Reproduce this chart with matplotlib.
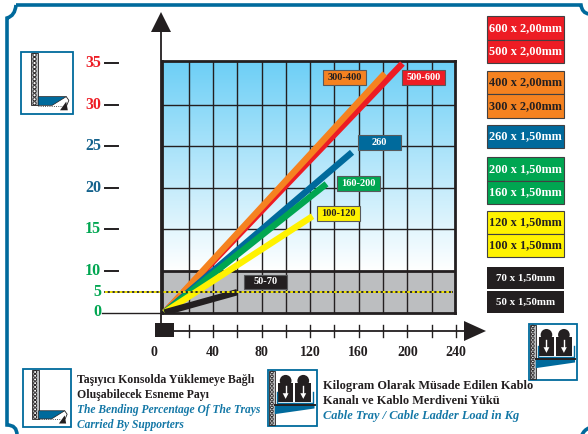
import numpy as np
import matplotlib
matplotlib.use('Agg')
import matplotlib.pyplot as plt
from matplotlib.colors import LinearSegmentedColormap
from matplotlib.patches import Rectangle, Polygon, Circle, PathPatch
from matplotlib.path import Path
from matplotlib.transforms import blended_transform_factory

# cable tray load (kg) / bending percentage
series_names = ['500-600', '300-400', '260', '160-200', '100-120', '50-70']
series_load = [196, 181.5, 154.5, 133.5, 122, 60]
series_bend = [35, 33.8, 24.3, 20.5, 16.6, 4.9]
series_colors = ['#ed1c24', '#f58220', '#006a9c', '#00a651', '#fff200', '#231f20']
name_colors = ['white', '#231f20', 'white', 'white', '#231f20', 'white']

y_ticks = [35, 30, 25, 20, 15, 10, 5, 0]
y_tick_colors = ['#ed1c24', '#ed1c24', '#14628c', '#14628c', '#00a651', '#00a651', '#00a651', '#00a651']
x_ticks = [0, 40, 80, 120, 160, 200, 240]

legend_labels = ['600 x 2,00mm', '500 x 2,00mm', '400 x 2,00mm', '300 x 2,00mm', '260 x 1,50mm',
                 '200 x 1,50mm', '160 x 1,50mm', '120 x 1,50mm', '100 x 1,50mm', '70 x 1,50mm', '50 x 1,50mm']
legend_colors = ['#ed1c24', '#ed1c24', '#f58220', '#f58220', '#006a9c',
                 '#00a651', '#00a651', '#fff200', '#fff200', '#231f20', '#231f20']
legend_text = ['white', 'white', '#231f20', '#231f20', 'white', 'white', 'white',
               '#231f20', '#231f20', 'white', 'white']

W, H = 588, 434
DARK = '#231f20'
BLUE = '#006a9c'
TXTBLUE = '#1377a6'
plt.rcParams['font.family'] = ['Liberation Serif', 'DejaVu Serif']

fig = plt.figure(figsize=(W / 100, H / 100), dpi=100, facecolor='white')


def px_axes(z):
    a = fig.add_axes([0, 0, 1, 1], zorder=z)
    a.set_xlim(0, W)
    a.set_ylim(H, 0)
    a.axis('off')
    a.patch.set_alpha(0)
    return a


bg = px_axes(0)
ov = px_axes(2)

# main axes, y axis is squeezed below 10
L, R, T, B = 161.5, 455.0, 61.0, 312.5
ax = fig.add_axes([L / W, 1 - B / H, (R - L) / W, (B - T) / H], zorder=1)
ax.patch.set_alpha(0)


def squeeze(y):
    y = np.asarray(y, dtype=float)
    return np.where(y <= 10, y * 0.5, y - 5)


def unsqueeze(z):
    z = np.asarray(z, dtype=float)
    return np.where(z <= 5, z * 2, z + 5)


ax.set_yscale('function', functions=(squeeze, unsqueeze))
ax.set_xlim(-2.4, 239.3)
ax.set_ylim(0, 35.3)
ax.set_xticks(np.arange(20, 240, 20))
ax.set_yticks([10, 15, 20, 25, 30])
ax.minorticks_off()
ax.tick_params(length=0, labelbottom=False, labelleft=False)
ax.grid(True, color=DARK, lw=1.0)
ax.get_ygridlines()[0].set_linewidth(2.0)
for s in ax.spines.values():
    s.set_linewidth(2.0)
    s.set_color(DARK)
ax.set_axisbelow(True)

# background gradient + gray band
cm = LinearSegmentedColormap.from_list('sky', ['#6dcff6', '#ffffff'])
bg.imshow(np.linspace(0, 1, 200)[:, None], cmap=cm, aspect='auto', extent=(L, R, 271, T), zorder=0)
bg.set_xlim(0, W)
bg.set_ylim(H, 0)
bg.add_patch(Rectangle((L, 271), R - L, B - 271, color='#bcbec0', lw=0, zorder=1))

# series
for x, y, c in zip(series_load, series_bend, series_colors):
    ax.plot([0, x], [0, y], color=c, lw=4.6, solid_capstyle='butt', zorder=3)

# y ticks, outside the axes on the left
ty = blended_transform_factory(ov.transData, ax.transData)
for v, c in zip(y_ticks, y_tick_colors):
    ax.text(101, v, str(v), color=c, fontsize=11.5, fontweight='bold', ha='right', va='center',
            transform=ty, clip_on=False)
    if v >= 10:
        ax.plot([105, 118], [v, v], color=DARK, lw=1.4, transform=ty, clip_on=False)
ax.plot([102, 161], [0, 0], color=DARK, lw=1.0, transform=ty, clip_on=False)
ax.plot([105, 452], [5, 5], color=DARK, lw=1.3, transform=ty, clip_on=False, zorder=4)
ax.plot([105, 452], [5, 5], color='#fff200', lw=1.3, ls=(0, (1.5, 1.2)), transform=ty, clip_on=False, zorder=4)

# axes arrows
ov.plot([161, 161], [30, 323], color=DARK, lw=1.3)
ov.add_patch(Polygon([[151, 32], [171, 32], [161, 12]], color=DARK, lw=0))
ov.plot([170, 466], [331, 331], color=DARK, lw=1.3)
ov.add_patch(Polygon([[464, 321], [464, 341], [486, 331]], color=DARK, lw=0))
ov.add_patch(Rectangle((154.5, 323), 19, 14, color=DARK, lw=0))

# x ticks below the axes
tx = blended_transform_factory(ax.transData, ov.transData)
for v in np.arange(20, 241, 20):
    ax.plot([v, v], [325, 337], color=DARK, lw=1.0, transform=tx, clip_on=False)
for v in x_ticks:
    xoff = -9 if v == 0 else 0
    ax.text(v + xoff, 352, str(v), color=DARK, fontsize=10, fontweight='bold', ha='center', va='center',
            transform=tx, clip_on=False)

# series name boxes
boxes = [(402, 70), (323, 70), (358, 135), (337, 176), (317, 206), (244, 274.5)]
for (bx, by), n, c, tc in zip(boxes, series_names, series_colors, name_colors):
    ov.add_patch(Rectangle((bx, by), 43, 14.5, facecolor=c, edgecolor='#58595b', lw=0.8))
    ov.text(bx + 21.5, by + 7.5, n, color=tc, fontsize=7.5, fontweight='bold', ha='center', va='center')

# legend on the right
spans = [(16, 40), (40, 63), (71, 94), (94, 118), (125, 148), (157, 181), (181, 204),
         (211, 234), (234, 257), (267, 289), (291, 313)]
for (y0, y1), n, c, tc in zip(spans, legend_labels, legend_colors, legend_text):
    small = c == DARK
    x0, x1 = (487, 564) if small else (486.5, 564)
    ov.add_patch(Rectangle((x0, y0), x1 - x0, y1 - y0, facecolor=c, edgecolor='#414042', lw=0 if small else 0.8))
    ov.text((x0 + x1) / 2, (y0 + y1) / 2, n, color=tc, fontsize=7.9 if small else 8.8, fontweight='bold',
            ha='center', va='center')


# little pictures
def strip(a, x0, x1, y0, y1, n):
    a.add_patch(Rectangle((x0, y0), x1 - x0, y1 - y0, facecolor='#bcbec0', edgecolor=DARK, lw=0.6))
    for yy in np.linspace(y0 + 2, y1 - 2, n):
        a.add_patch(Circle(((x0 + x1) / 2, yy), (x1 - x0) * 0.22, facecolor='white', edgecolor=DARK, lw=0.7))


def bend_icon(a, x0, y0, x1, y1):
    w, h = x1 - x0, y1 - y0
    a.add_patch(Rectangle((x0, y0), w, h, facecolor='white', edgecolor=BLUE, lw=1.3))
    strip(a, x0 + 0.19 * w, x0 + 0.33 * w, y0 + 1, y0 + 0.86 * h, 13)
    a.add_patch(Polygon([[x0 + 0.33 * w, y0 + 0.72 * h], [x0 + 0.87 * w, y0 + 0.72 * h],
                         [x0 + 0.6 * w, y0 + 0.86 * h], [x0 + 0.33 * w, y0 + 0.86 * h]],
                        facecolor=BLUE, edgecolor=DARK, lw=0.5))
    a.plot([x0 + 0.33 * w, x0 + 0.8 * w], [y0 + 0.87 * h, y0 + 0.87 * h], color=DARK, lw=0.6, ls=':')
    a.add_patch(Polygon([[x0 + 0.75 * w, y0 + 0.94 * h], [x0 + 0.9 * w, y0 + 0.94 * h],
                         [x0 + 0.87 * w, y0 + 0.8 * h]], color=DARK, lw=0))
    a.plot([x0 + 0.87 * w, x0 + 0.92 * w, x0 + 0.88 * w], [y0 + 0.72 * h, y0 + 0.78 * h, y0 + 0.86 * h],
           color=DARK, lw=0.6)


def load_icon(a, x0, y0, x1, y1):
    w, h = x1 - x0, y1 - y0
    a.add_patch(Rectangle((x0, y0), w, h, facecolor='white', edgecolor=BLUE, lw=1.3))
    strip(a, x0 + 0.03 * w, x0 + 0.15 * w, y0 + 1, y1 - 1, 14)
    a.plot([x0 + 0.2 * w, x0 + 0.2 * w, x0 + 0.93 * w, x0 + 0.93 * w],
           [y0 + 0.4 * h, y0 + 0.6 * h, y0 + 0.6 * h, y0 + 0.4 * h], color=BLUE, lw=1.0)
    for cx in (0.37, 0.73):
        c = x0 + cx * w
        a.add_patch(Rectangle((c - 0.16 * w, y0 + 0.24 * h), 0.32 * w, 0.34 * h, color=DARK, lw=0))
        a.add_patch(Circle((c, y0 + 0.2 * h), 0.12 * w, color=DARK, lw=0))
        a.plot([c, c], [y0 + 0.3 * h, y0 + 0.44 * h], color='white', lw=1.0)
        a.add_patch(Polygon([[c - 0.06 * w, y0 + 0.42 * h], [c + 0.06 * w, y0 + 0.42 * h], [c, y0 + 0.52 * h]],
                            color='white', lw=0))
    a.add_patch(Polygon([[x0 + 0.15 * w, y0 + 0.62 * h], [x0 + 0.96 * w, y0 + 0.62 * h],
                         [x0 + 0.96 * w, y0 + 0.69 * h], [x0 + 0.15 * w, y0 + 0.79 * h]], color=BLUE, lw=0))
    a.plot([x0 + 0.15 * w, x0 + 0.96 * w], [y0 + 0.62 * h, y0 + 0.62 * h], color=DARK, lw=1.4)


bend_icon(bg, 21, 52, 73, 114)
bend_icon(bg, 22.5, 369, 71, 427)
load_icon(bg, 267.5, 369.5, 316.5, 426)
load_icon(bg, 528.5, 323.5, 577, 380)

# bottom captions
cap = dict(fontweight='bold', va='center', ha='left')
ov.text(77, 380, 'Taşıyıcı Konsolda Yüklemeye Bağlı', color=DARK, fontsize=8.5, **cap)
ov.text(77, 395, 'Oluşabilecek Esneme Payı', color=DARK, fontsize=8.5, **cap)
ov.text(77, 410, 'The Bending Percentage Of The Trays', color=TXTBLUE, fontstyle='italic', fontsize=8.3, **cap)
ov.text(77, 425, 'Carried By Supporters', color=TXTBLUE, fontstyle='italic', fontsize=8.3, **cap)
ov.text(323, 386, 'Kilogram Olarak Müsade Edilen Kablo', color=DARK, fontsize=8.9, **cap)
ov.text(323, 401, 'Kanalı ve Kablo Merdiveni Yükü', color=DARK, fontsize=8.9, **cap)
ov.text(323, 416, 'Cable Tray / Cable Ladder Load in Kg', color=TXTBLUE, fontstyle='italic', fontsize=8.9, **cap)

# page frame with the scooped corners
verts = [(16, 5), (581, 5), (582, 13), (589, 14)]
codes = [Path.MOVETO, Path.LINETO, Path.CURVE3, Path.CURVE3]
bg.add_patch(PathPatch(Path(verts, codes), fill=False, edgecolor=BLUE, lw=2.6))
verts = [(16, 5), (15, 16), (7, 18), (7, 425), (17, 425), (17, 435)]
codes = [Path.MOVETO, Path.CURVE3, Path.CURVE3, Path.LINETO, Path.CURVE3, Path.CURVE3]
bg.add_patch(PathPatch(Path(verts, codes), fill=False, edgecolor=BLUE, lw=2.6))
bg.add_patch(PathPatch(Path([(582, 435), (584, 430), (589, 428)], [Path.MOVETO, Path.CURVE3, Path.CURVE3]),
                       fill=False, edgecolor=BLUE, lw=2.6))

fig.savefig('out.png', dpi=100)
